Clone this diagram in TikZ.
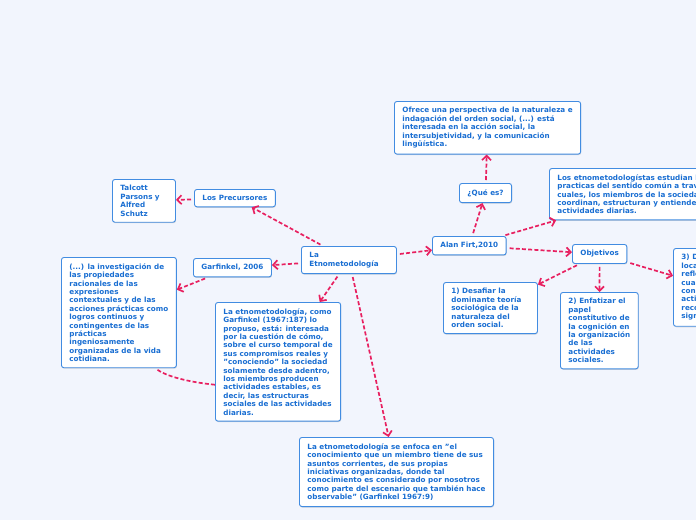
\documentclass[tikz,border=0pt]{standalone}
\usepackage{fontspec}
\setmainfont{DejaVu Sans}
\usetikzlibrary{positioning, arrows.meta, shadows}

\definecolor{bgcol}{RGB}{242,245,253}
\definecolor{boxblue}{RGB}{66,140,225}
\definecolor{txtblue}{RGB}{25,110,210}
\definecolor{linkred}{RGB}{232,32,96}

\begin{document}
\begin{tikzpicture}[x=1pt, y=-1pt,
    idea/.style={draw=boxblue, line width=0.9pt, fill=white, rounded corners=2.5pt,
        text=txtblue, font=\fontsize{7.2}{8.4}\selectfont\bfseries, align=left,
        inner xsep=8pt, inner ysep=6pt, anchor=north west,
        drop shadow={shadow xshift=0.5pt, shadow yshift=-1pt, fill=black!40, opacity=0.35}},
    link/.style={draw=linkred, line width=1.7pt, dash pattern=on 4pt off 2.2pt,
        shorten <=3pt, -{Straight Barb[length=4.5pt, width=9pt]}}]
\path[use as bounding box, fill=bgcol] (0,0) rectangle (696,520);
\clip (0,0) rectangle (696,520);

% Central topic
\node[idea, text width=79pt] (etno) at (301,246) {La\\Etnometodología};

% Left side
\node[idea] (prec) at (194,189) {Los Precursores};
\node[idea, text width=47pt] (talc) at (112,179) {Talcott\\Parsons y\\Alfred\\Schutz};
\node[idea] (garf06) at (193,258) {Garfinkel, 2006};
\node[idea] (invest) at (61,257) {(...) la investigación de\\las propiedades\\racionales de las\\expresiones\\contextuales y de las\\acciones prácticas como\\logros continuos y\\contingentes de las\\prácticas\\ingeniosamente\\organizadas de la vida\\cotidiana.};
\node[idea] (garf67) at (215,302) {La etnometodología, como\\Garfinkel (1967:187) lo\\propuso, está: interesada\\por la cuestión de cómo,\\sobre el curso temporal de\\sus compromisos reales y\\"conociendo" la sociedad\\solamente desde adentro,\\los miembros producen\\actividades estables, es\\decir, las estructuras\\sociales de las actividades\\diarias.};
\node[idea] (enfoca) at (299,437) {La etnometodología se enfoca en "el\\conocimiento que un miembro tiene de sus\\asuntos corrientes, de sus propias\\iniciativas organizadas, donde tal\\conocimiento es considerado por nosotros\\como parte del escenario que también hace\\observable" (Garfinkel 1967:9)};

% Right side
\node[idea] (alan) at (432,236) {Alan Firt,2010};
\node[idea] (que) at (459,183) {¿Qué es?};
\node[idea] (ofrece) at (394,101) {Ofrece una perspectiva de la naturaleza e\\indagación del orden social, (...) está\\interesada en la acción social, la\\intersubjetividad, y la comunicación\\lingüística.};
\node[idea] (estudian) at (549,168) {Los etnometodologístas estudian las\\practicas del sentido común a través de las\\cuales, los miembros de la sociedad\\coordinan, estructuran y entienden sus\\actividades diarias.};
\node[idea] (obj) at (572,244) {Objetivos};
\node[idea, text width=78pt] (obj1) at (443,282) {1) Desafiar la\\dominante teoría\\sociológica de la\\naturaleza del\\orden social.};
\node[idea] (obj2) at (560,292) {2) Enfatizar el\\papel\\constitutivo de\\la cognición en\\la organización\\de las\\actividades\\sociales.};
\node[idea] (obj3) at (673,248) {3) Destacar la\\localidad y\\reflexividad, la\\cual\\constituye las\\actividades\\reconocibles y\\significativas.};

% Connectors
\draw[link] (etno) -- (prec);
\draw[link] (prec) -- (talc);
\draw[link] (etno) -- (garf06);
\draw[link] (garf06) -- (invest);
\draw[link] (etno) -- (garf67);
\draw[link] (etno) -- (enfoca);
\draw[link] (etno) -- (alan);
\draw[link] (alan) -- (que);
\draw[link] (que) -- (ofrece);
\draw[link] (alan) -- (estudian);
\draw[link] (alan) -- (obj);
\draw[link] (obj) -- (obj1);
\draw[link] (obj) -- (obj2);
\draw[link] (obj) -- (obj3);
\draw[link, -] (invest.-57) .. controls +(15,10) and +(-20,-2) .. (garf67.200);
\end{tikzpicture}
\end{document}
